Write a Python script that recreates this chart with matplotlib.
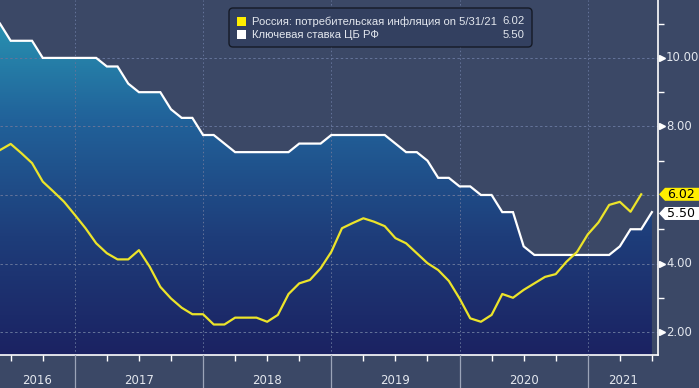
import matplotlib
matplotlib.use('Agg')
import matplotlib.pyplot as plt
import numpy as np
from matplotlib.colors import LinearSegmentedColormap
from matplotlib.patches import Polygon, FancyBboxPatch, Rectangle
from matplotlib.lines import Line2D
import matplotlib.transforms as mtransforms

# ---------------- data (monthly, month-end, starting May 2016) ----------------
start_year, start_month = 2016, 5
key_rate = [11.0, 10.5, 10.5, 10.5, 10.0, 10.0, 10.0, 10.0, 10.0, 10.0,
            9.75, 9.75, 9.25, 9.0, 9.0, 9.0, 8.5, 8.25, 8.25, 7.75,
            7.75, 7.5, 7.25, 7.25, 7.25, 7.25, 7.25, 7.25, 7.5, 7.5,
            7.5, 7.75, 7.75, 7.75, 7.75, 7.75, 7.75, 7.5, 7.25, 7.25,
            7.0, 6.5, 6.5, 6.25, 6.25, 6.0, 6.0, 5.5, 5.5, 4.5,
            4.25, 4.25, 4.25, 4.25, 4.25, 4.25, 4.25, 4.25, 4.5, 5.0,
            5.0, 5.5]
cpi = [7.31, 7.49, 7.22, 6.93, 6.39, 6.10, 5.80, 5.42, 5.03, 4.59,
       4.30, 4.12, 4.12, 4.39, 3.91, 3.32, 2.98, 2.71, 2.52, 2.52,
       2.22, 2.22, 2.42, 2.42, 2.42, 2.30, 2.50, 3.11, 3.42, 3.52,
       3.86, 4.34, 5.03, 5.18, 5.32, 5.22, 5.09, 4.74, 4.59, 4.30,
       4.01, 3.81, 3.49, 2.98, 2.40, 2.30, 2.50, 3.11, 3.00, 3.23,
       3.42, 3.61, 3.69, 4.05, 4.34, 4.85, 5.20, 5.71, 5.80, 5.51,
       6.02]
years = ['2016', '2017', '2018', '2019', '2020', '2021']
yticks = [2, 4, 6, 8, 10]
ytick_labels = ['2.00', '4.00', '6.00', '8.00', '10.00']
legend_labels = ['Россия: потребительская инфляция on 5/31/21', 'Ключевая ставка ЦБ РФ']
legend_values = ['6.02', '5.50']

# ---------------- style ----------------
W, H = 699, 388
BG = '#3b4866'
YEL = '#ece42a'
GRID = '#65749a'
TXT = '#e3e7ee'
FONT = 'DejaVu Sans'
LFONT = 'Liberation Sans'
plt.rcParams['font.family'] = [FONT]

fig = plt.figure(figsize=(W / 100, H / 100), dpi=100)
fig.patch.set_facecolor(BG)
ax = fig.add_axes([0, 33 / H, 658 / W, 355 / H])
ax.set_facecolor(BG)

x_key = np.arange(len(key_rate))
x_cpi = np.arange(len(cpi))
XMAX = 61.57
YMIN, YMAX = 1.33, 11.69
ax.set_xlim(0, XMAX)
ax.set_ylim(YMIN, YMAX)

# gradient area under the key rate
cmap = LinearSegmentedColormap.from_list('g', ['#1b2262', '#1e3d7a', '#21629a', '#2a9cb6'])
grad = np.linspace(0, 1, 256).reshape(-1, 1)
im = ax.imshow(grad, extent=[0, XMAX, YMIN, YMAX], origin='lower', aspect='auto',
               cmap=cmap, zorder=1, interpolation='bilinear')
poly = ax.fill_between(x_key, key_rate, YMIN, facecolor='none', edgecolor='none')
im.set_clip_path(poly.get_paths()[0], transform=ax.transData)

# grid
for yv in yticks:
    ax.axhline(yv, color=GRID, lw=0.7, ls=(0, (2.5, 2.5)), zorder=2)
year_bounds = [(int(y) - start_year) * 12 - start_month for y in years[1:]]
for xb in year_bounds:
    ax.axvline(xb, color=GRID, lw=0.7, ls=(0, (1.5, 2.5)), zorder=2)

# lines
ax.plot(x_key, key_rate, color='white', lw=1.6, zorder=4, solid_joinstyle='miter')
ax.plot(x_cpi, cpi, color=YEL, lw=1.6, zorder=5)

# spines
for s in ['top', 'left']:
    ax.spines[s].set_visible(False)
for s in ['right', 'bottom']:
    ax.spines[s].set_color('white')
    ax.spines[s].set_linewidth(1.2)
    ax.spines[s].set_zorder(6)

# y ticks on right
ax.yaxis.set_ticks_position('right')
ax.set_yticks(yticks)
ax.set_yticklabels([])
ax.set_yticks([3, 5, 7, 9, 11], minor=True)
ax.tick_params(axis='y', which='major', length=0)
ax.tick_params(axis='y', which='minor', length=4, width=1, color='white', direction='out')

# x ticks: quarterly, excluding year boundaries
q_ticks = [i for i in range(1, int(XMAX) + 1, 3) if i not in year_bounds]
ax.set_xticks([])
ax.set_xticks(q_ticks, minor=True)
ax.tick_params(axis='x', which='minor', length=4, width=1, color='white', direction='out')

ident = mtransforms.IdentityTransform()
bl = mtransforms.blended_transform_factory(fig.transFigure, ax.transData)

# right tick labels with triangles
last_cpi = cpi[-1]
for yv, lab in zip(yticks, ytick_labels):
    if abs(yv - last_cpi) < 0.4:
        continue
    ax.plot([661.5 / W], [yv], marker='>', ms=5, color='white', mec='white',
            transform=bl, clip_on=False, zorder=7)
    fig.text(666 / W, yv, lab, transform=bl, ha='left', va='center',
             color=TXT, fontsize=8.4)

# bottom: year separators and labels
fig.canvas.draw()
renderer = fig.canvas.get_renderer()
def dx(xv):
    return ax.transData.transform((xv, 0))[0]
def dy(yv):
    return ax.transData.transform((0, yv))[1]

ax_bottom = 33
for xb in year_bounds:
    fig.add_artist(Line2D([dx(xb), dx(xb)], [0, ax_bottom], transform=ident,
                          color='#9ba4b8', lw=0.9))
edges = [0] + year_bounds + [XMAX]
for k, yr in enumerate(years):
    xc = (dx(edges[k]) + dx(edges[k + 1])) / 2
    fig.text(xc, 7, yr, transform=ident, ha='center', va='center',
             color=TXT, fontsize=8.5)

# value tags
def tag(val, text, fc):
    yc = dy(val)
    h = 6.5
    pts = [(659, yc), (665, yc + h), (699, yc + h), (699, yc - h), (665, yc - h)]
    fig.add_artist(Polygon(pts, closed=True, transform=ident, facecolor=fc,
                           edgecolor='none', zorder=8))
    fig.text(667, yc, text, transform=ident, ha='left', va='center',
             color='black', fontsize=9, zorder=9)

tag(cpi[-1], legend_values[0], '#ffee00')
tag(key_rate[-1] - 0.04, legend_values[1], 'white')

# legend box
lb = FancyBboxPatch((229, H - 47), 303, 39, boxstyle='round,pad=0,rounding_size=4',
                    transform=ident, facecolor='#334060', edgecolor='#151a26', lw=1.0, zorder=10)
fig.add_artist(lb)
rows = [H - 21.5, H - 34.5]
target_w = 246.0
probe = fig.text(0, 0, legend_labels[0], transform=ident, fontsize=8, family=LFONT)
w0 = probe.get_window_extent(renderer).width
probe.remove()
lfs = 8 * target_w / w0
for yr_, lab, val, c in zip(rows, legend_labels, legend_values, ['#ffee00', 'white']):
    fig.add_artist(Rectangle((237, yr_ - 4.5), 9, 9, transform=ident, facecolor=c,
                             edgecolor='none', zorder=11))
    fig.text(252, yr_, lab, transform=ident, ha='left', va='center', color=TXT,
             fontsize=lfs, family=LFONT, zorder=11)
    fig.text(525, yr_, val, transform=ident, ha='right', va='center', color=TXT,
             fontsize=lfs, family=LFONT, zorder=11)

fig.savefig('out.png', dpi=100, facecolor=BG)
